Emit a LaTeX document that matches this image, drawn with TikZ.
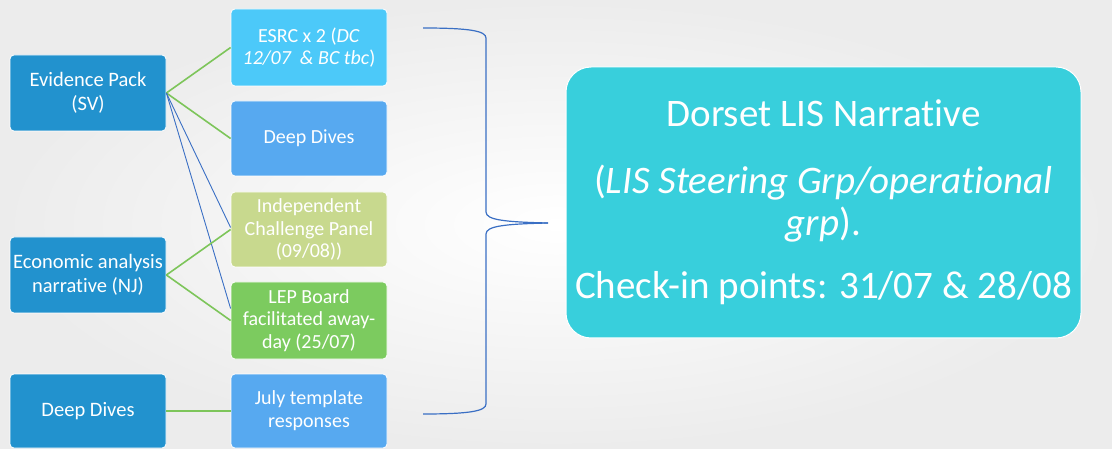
\documentclass[tikz,border=0pt]{standalone}
\usepackage{fontspec}
\setmainfont{Carlito}[RawFeature={-liga;-clig;-calt;-dlig}]
\usepackage{tikz}
\usetikzlibrary{calc}
\usetikzlibrary{positioning}
\definecolor{leftblue}{RGB}{34, 146, 206}
\definecolor{skyblue}{RGB}{76, 201, 249}
\definecolor{midblue}{RGB}{87, 169, 240}
\definecolor{olivegreen}{RGB}{200, 217, 142}
\definecolor{leafgreen}{RGB}{124, 203, 95}
\definecolor{turquoise}{RGB}{56, 207, 220}
\definecolor{linkgreen}{RGB}{125, 197, 90}
\definecolor{linkblue}{RGB}{58, 111, 196}
\definecolor{bggray}{RGB}{236, 236, 236}

\begin{document}
\begin{tikzpicture}[x=1pt, y=-1pt,
    box/.style={rectangle, rounded corners=4pt, draw=white, line width=0.8pt,
                minimum width=156pt, text=white, align=center, inner sep=1pt},
    leftbox/.style={box, fill=leftblue, font=\fontsize{20.5}{24}\selectfont},
    midbox/.style={box, font=\fontsize{20}{22.7}\selectfont},
    greenlink/.style={linkgreen, line width=1.6pt},
    bluelink/.style={linkblue, line width=0.9pt}]
            % Background
            \shade[inner color=white, outer color=bggray] (0,0) rectangle (1112,449);
            \useasboundingbox (0,0) rectangle (1112,449);
            % Left column
            \node[leftbox, minimum height=76pt] (evidence) at (88, 93)  {Evidence Pack\\(SV)};
            \node[leftbox, minimum height=76pt] (economic) at (88, 275) {Economic analysis\\narrative (NJ)};
            \node[leftbox, minimum height=74pt] (deepleft) at (88, 411) {Deep Dives};
            % Middle column
            \node[midbox, fill=skyblue,    minimum height=77pt] (esrc)  at (309, 47.5)  {ESRC x 2 (\textit{DC}\\\textit{12/07 \ \& BC tbc})};
            \node[midbox, fill=midblue,    minimum height=75pt] (deepmid) at (309, 138.5) {Deep Dives};
            \node[midbox, fill=olivegreen, minimum height=75pt] (panel) at (309, 229.5) {Independent\\Challenge Panel\\(09/08))};
            \node[midbox, fill=leafgreen,  minimum height=77pt] (board) at (309, 320.5) {LEP Board\\facilitated away-\\day (25/07)};
            \node[midbox, fill=midblue,    minimum height=74pt] (july)  at (309, 411)   {July template\\responses};
            % Right box
            \node[rectangle, rounded corners=25pt, fill=turquoise, draw=white, line width=1pt,
                  minimum width=515pt, minimum height=271pt, text=white, align=center,
                  font=\fontsize{39}{42}\selectfont] (narrative) at (823.5, 202.5)
                 {Dorset LIS Narrative\\[25pt]
                  (\textit{LIS Steering Grp/operational}\\\textit{grp}).\\[21pt]
                  Check-in points: 31/07 \& 28/08};
            % Links
            \draw[greenlink] (evidence.east) -- (esrc.west);
            \draw[greenlink] (evidence.east) -- (deepmid.west);
            \draw[bluelink]  (evidence.east) -- ([yshift=2pt]panel.west);
            \draw[bluelink]  (evidence.east) -- ([yshift=12pt]board.west);
            \draw[greenlink] (economic.east) -- (panel.west);
            \draw[greenlink] (economic.east) -- (board.west);
            \draw[greenlink] (deepleft.east) -- (july.west);
            % Brace
            \coordinate (bracetop) at (423, 28);
            \coordinate (bracetip) at (548, 223);
            \coordinate (bracebot) at (423, 414);
            \draw[linkblue, line width=1.2pt] (bracetop) .. controls (470, 28) and (486, 31) .. (486, 38)
                 -- (486, 212) .. controls (486, 220) and (505, 222) .. (bracetip);
            \draw[linkblue, line width=1.2pt] (bracebot) .. controls (470, 414) and (486, 411) .. (486, 404)
                 -- (486, 234) .. controls (486, 226) and (505, 224) .. (bracetip);
        \end{tikzpicture}
\end{document}
